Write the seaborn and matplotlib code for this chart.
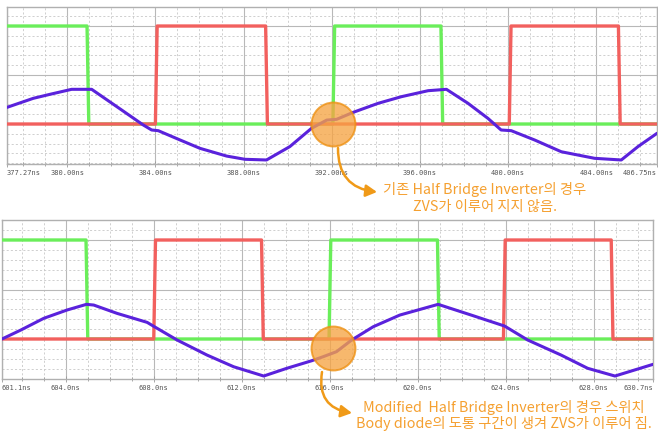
import matplotlib
matplotlib.use("Agg")
import matplotlib.pyplot as plt
from matplotlib.ticker import MultipleLocator
import pandas as pd
import seaborn as sns

# ---- top panel: conventional half bridge (time in ns) ----
top_green_t = [377.27, 380.90, 380.98, 392.05, 392.13, 396.95, 397.03, 406.75]
top_green_v = [10, 10, 0, 0, 10, 10, 0, 0]
top_red_t = [377.27, 384.00, 384.08, 389.00, 389.08, 400.05, 400.13, 405.00, 405.08, 406.75]
top_red_v = [0, 0, 10, 10, 0, 0, 10, 10, 0, 0]
top_cur_t = [377.27, 378.46, 379.22, 380.2, 381.11, 382.47, 383.45, 383.83, 384.13, 385.12,
             386.02, 387.23, 388.06, 389.04, 390.1, 391.08, 391.77, 392.22, 392.97, 394.1,
             395.16, 396.37, 397.2, 398.18, 399.08, 399.68, 400.14, 401.2, 402.41, 403.92,
             405.13, 405.89, 406.75]
top_cur_v = [1.70, 2.62, 3.03, 3.54, 3.54, 1.43, -0.1, -0.61, -0.68, -1.63,
             -2.48, -3.27, -3.6, -3.67, -2.3, -0.44, 0.4, 0.48, 1.19, 2.11,
             2.79, 3.4, 3.54, 2.11, 0.58, -0.61, -0.68, -1.63, -2.83, -3.5,
             -3.67, -2.3, -0.95]
top_ticks = [377.27, 380, 384, 388, 392, 396, 400, 404, 406.75]
top_labels = ["377.27ns", "380.00ns", "384.00ns", "388.00ns", "392.00ns",
              "396.00ns", "400.00ns", "404.00ns", "406.75ns"]
top_zvs = (392.05, 0.05)

# ---- bottom panel: modified half bridge ----
bot_green_t = [601.1, 604.92, 605.0, 615.97, 616.05, 620.9, 620.98, 630.7]
bot_green_v = [10, 10, 0, 0, 10, 10, 0, 0]
bot_red_t = [601.1, 608.0, 608.08, 612.9, 612.98, 623.9, 623.98, 628.8, 628.88, 630.7]
bot_red_v = [0, 0, 10, 10, 0, 0, 10, 10, 0, 0]
bot_cur_t = [601.1, 601.96, 603.0, 604.06, 604.94, 605.27, 606.33, 607.7, 608.03, 609.06,
             610.42, 611.63, 613.0, 614.05, 615.19, 615.7, 616.31, 617.0, 617.98, 619.19,
             620.93, 622.43, 623.95, 625.0, 626.52, 627.73, 628.97, 630.7]
bot_cur_v = [0.0, 0.91, 2.09, 2.93, 3.5, 3.43, 2.59, 1.68, 1.24, -0.1,
             -1.62, -2.8, -3.74, -2.96, -2.19, -1.79, -1.28, -0.1, 1.24, 2.42,
             3.5, 2.42, 1.31, -0.1, -1.62, -2.96, -3.74, -2.56]
bot_ticks = [601.1, 604, 608, 612, 616, 620, 624, 628, 630.7]
bot_labels = ["601.1ns", "604.0ns", "608.0ns", "612.0ns", "616.0ns",
              "620.0ns", "624.0ns", "628.0ns", "630.7ns"]
bot_zvs = (616.15, -0.9)

top_note = "기존 Half Bridge Inverter의 경우\nZVS가 이루어 지지 않음."
bot_note = "Modified  Half Bridge Inverter의 경우 스위치\nBody diode의 도통 구간이 생겨 ZVS가 이루어 짐."

GREEN = "#6aee5a"
RED = "#f2605e"
PURPLE = "#5a22dc"
ORANGE = "#f5a030"

sns.set_style("white")
plt.rcParams["font.family"] = ["Noto Sans CJK KR", "DejaVu Sans"]

W, H = 658, 434
fig = plt.figure(figsize=(W / 100, H / 100), dpi=100)
ax_top = fig.add_axes([7 / W, 1 - 164 / H, 650 / W, 157 / H])
ax_bot = fig.add_axes([2 / W, 1 - 379 / H, 651 / W, 159 / H])


def draw_panel(ax, gt, gv, rt, rv, ct, cv, ticks, labels, zvs, ylim):
    sns.lineplot(x=gt, y=gv, ax=ax, color=GREEN, lw=2.4, estimator=None, sort=False, zorder=3)
    sns.lineplot(x=rt, y=rv, ax=ax, color=RED, lw=2.4, estimator=None, sort=False, zorder=4)
    sns.lineplot(x=ct, y=cv, ax=ax, color=PURPLE, lw=2.2, estimator=None, sort=False, zorder=5)
    ax.scatter([zvs[0]], [zvs[1]], s=1000, color="#f6a444", alpha=0.78,
               edgecolor="#ee9010", linewidth=1.4, zorder=6)
    ax.set_xlim(ticks[0], ticks[-1])
    ax.set_ylim(*ylim)
    ax.set_xticks(ticks)
    ax.set_xticklabels(labels, family="DejaVu Sans Mono", fontsize=5, color="#555555")
    ax.get_xticklabels()[0].set_ha("left")
    ax.get_xticklabels()[-1].set_ha("right")
    ax.xaxis.set_minor_locator(MultipleLocator(1))
    ax.yaxis.set_major_locator(MultipleLocator(5))
    ax.yaxis.set_minor_locator(MultipleLocator(1))
    ax.set_axisbelow(True)
    ax.grid(which="major", color="#b8b8b8", lw=0.8, ls="-")
    ax.grid(which="minor", color="#c8c8c8", lw=0.6, ls=(0, (2.5, 2.5)))
    ax.tick_params(axis="x", which="both", direction="inout", length=4, color="#999999",
                   width=0.6, pad=2.5, bottom=True)
    ax.tick_params(axis="x", which="minor", length=3)
    ax.tick_params(axis="y", which="both", left=False, labelleft=False)
    for sp in ax.spines.values():
        sp.set_color("#b0b0b0")
        sp.set_linewidth(1.0)
    ax.set_xlabel("")
    ax.set_ylabel("")


draw_panel(ax_top, top_green_t, top_green_v, top_red_t, top_red_v, top_cur_t, top_cur_v,
           top_ticks, top_labels, top_zvs, (-4.08, 11.94))
draw_panel(ax_bot, bot_green_t, bot_green_v, bot_red_t, bot_red_v, bot_cur_t, bot_cur_v,
           bot_ticks, bot_labels, bot_zvs, (-4.04, 12.02))

arrow = dict(arrowstyle="-|>,head_length=0.55,head_width=0.3", color="#f09a18",
             lw=1.8, mutation_scale=12, shrinkA=0, shrinkB=0)
fig.add_artist(plt.Annotation("", xy=(377, H - 192), xytext=(338, H - 148),
                              xycoords="figure pixels", textcoords="figure pixels",
                              arrowprops=dict(arrow, connectionstyle="arc3,rad=0.45")))
fig.add_artist(plt.Annotation("", xy=(352, H - 413), xytext=(322, H - 372),
                              xycoords="figure pixels", textcoords="figure pixels",
                              arrowprops=dict(arrow, connectionstyle="arc3,rad=0.5")))

fig.text(485 / W, 1 - 198 / H, top_note, ha="center", va="center", fontsize=10.3,
         color=ORANGE, linespacing=1.2)
fig.text(504 / W, 1 - 415.5 / H, bot_note, ha="center", va="center", fontsize=10.3,
         color=ORANGE, linespacing=1.12)

fig.savefig("out.png", dpi=100)
